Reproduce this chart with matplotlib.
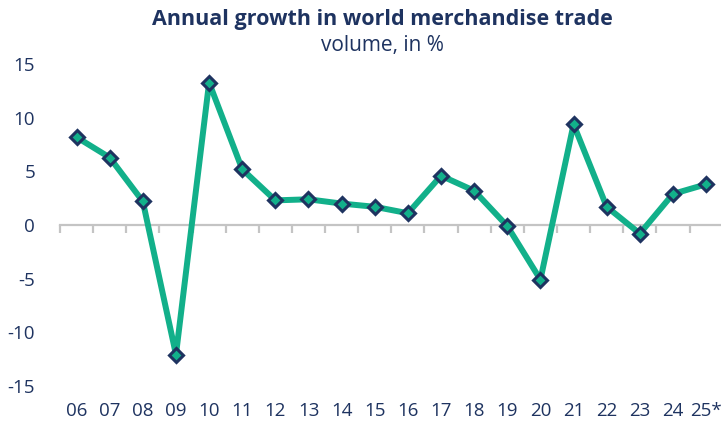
import matplotlib
matplotlib.use('Agg')
import matplotlib.pyplot as plt
import numpy as np

# Data (annual % change in world merchandise trade volume)
years = ['06', '07', '08', '09', '10', '11', '12', '13', '14', '15',
         '16', '17', '18', '19', '20', '21', '22', '23', '24', '25*']
growth = [8.2, 6.3, 2.2, -12.1, 13.3, 5.2, 2.3, 2.4, 2.0, 1.7,
          1.1, 4.6, 3.2, -0.1, -5.1, 9.4, 1.7, -0.8, 2.9, 3.8]
yticks = [-15, -10, -5, 0, 5, 10, 15]

navy = '#1e3360'
green = '#12b08a'
grey = '#c4c4c4'

plt.rcParams['font.family'] = ['Open Sans', 'DejaVu Sans']

fig = plt.figure(figsize=(7.21, 4.23), dpi=100)
ax = fig.add_axes([60 / 721, 1 - 391 / 423, 661 / 721, 332 / 423])

x = np.arange(len(years))
ax.plot(x, growth, color=green, lw=4.3, marker='D', ms=7.5,
        mfc=green, mec=navy, mew=2.2, zorder=3, solid_joinstyle='round')

ax.set_xlim(-0.5, 19.45)
ax.set_ylim(-15.5, 15.5)

# zero line with tick marks between categories
for s in ['top', 'right', 'left']:
    ax.spines[s].set_visible(False)
ax.spines['bottom'].set_position(('data', 0))
ax.spines['bottom'].set_color(grey)
ax.spines['bottom'].set_linewidth(1.6)
ax.set_xticks(x - 0.5)
ax.tick_params(axis='x', direction='out', length=6, width=1.6,
               color=grey, labelbottom=False)

# category labels at the bottom
sec = ax.secondary_xaxis('bottom')
sec.spines['bottom'].set_visible(False)
sec.set_xticks(x, labels=years)
sec.tick_params(length=0, pad=8, labelsize=13.5, labelcolor=navy)

ax.set_yticks(yticks)
ax.set_yticklabels([str(v) for v in yticks])
ax.tick_params(axis='y', length=0, pad=18, labelsize=13.5, labelcolor=navy)

fig.text(382 / 721, 1 - 20 / 423, 'Annual growth in world merchandise trade',
         ha='center', va='center', fontsize=15.5, fontweight='bold', color=navy)
fig.text(382 / 721, 1 - 46 / 423, 'volume, in %',
         ha='center', va='center', fontsize=15, color=navy)

fig.savefig('out.png', dpi=100)
